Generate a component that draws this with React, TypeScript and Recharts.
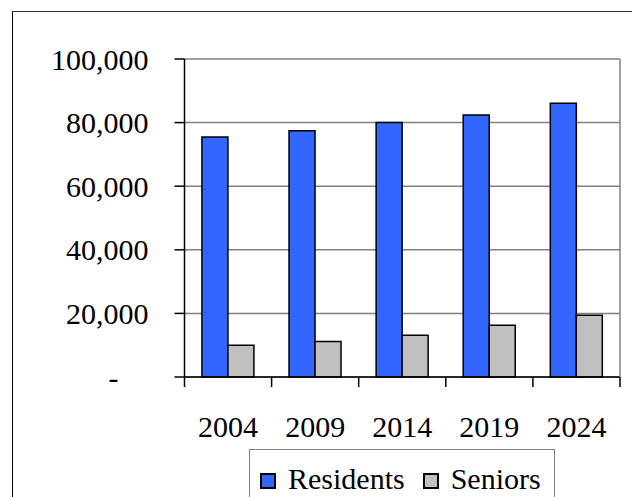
import React from 'react';
import { BarChart, Bar, XAxis, YAxis, CartesianGrid, Legend } from 'recharts';

const years = ['2004', '2009', '2014', '2019', '2024'];
const residents = [75500, 77400, 80000, 82400, 86100];
const seniors = [10000, 11200, 13100, 16300, 19400];
const yTicks = [0, 20000, 40000, 60000, 80000, 100000];

const data = years.map((y, i) => ({ year: y, Residents: residents[i], Seniors: seniors[i] }));

const FONT = 'Liberation Serif, DejaVu Serif, serif';
const BLUE = '#3366FF';
const GREY = '#C0C0C0';

const fmtY = (v: number) => (v === 0 ? '-\u00A0\u00A0\u00A0\u00A0' : v.toLocaleString('en-US'));

const XTick = (props: any) => {
  const { x, y, payload, index, visibleTicksCount } = props;
  const half = payload && payload.offset ? payload.offset : 43.6;
  const last = index === visibleTicksCount - 1;
  return (
    <g>
      <line x1={x - half} y1={y} x2={x - half} y2={y + 10} stroke="#000" strokeWidth={1.5} />
      {last && <line x1={x + half} y1={y} x2={x + half} y2={y + 10} stroke="#000" strokeWidth={1.5} />}
      <text x={x} y={y + 60} textAnchor="middle" fontFamily={FONT} fontSize={30} fill="#000">
        {payload.value}
      </text>
    </g>
  );
};

const LegendBox = () => (
  <div
    style={{
      width: 306,
      height: 60,
      border: '1.5px solid #808080',
      borderBottom: 'none',
      boxSizing: 'border-box',
      fontFamily: FONT,
      fontSize: 30,
      color: '#000',
      display: 'flex',
      alignItems: 'flex-start',
      paddingLeft: 10,
      paddingTop: 12,
      whiteSpace: 'nowrap',
    }}
  >
    {[
      { name: 'Residents', color: BLUE },
      { name: 'Seniors', color: GREY },
    ].map((it) => (
      <span key={it.name} style={{ display: 'inline-flex', alignItems: 'center', marginRight: 18, fontFamily: FONT }}>
        <span
          style={{
            display: 'inline-block',
            width: 16,
            height: 16,
            background: it.color,
            border: '2px solid #000',
            boxSizing: 'border-box',
            marginRight: 12,
            marginTop: 4,
          }}
        />
        <span style={{ lineHeight: '34px', fontFamily: FONT }}>{it.name}</span>
      </span>
    ))}
  </div>
);

export default function App() {
  return (
    <div style={{ position: 'absolute', left: 0, top: 0, width: 632, height: 497, overflow: 'hidden', background: '#fff', fontFamily: FONT }}>
      <div
        style={{
          position: 'absolute',
          left: 12,
          top: 11,
          width: 700,
          height: 600,
          borderLeft: '1.5px solid #000',
          borderTop: '1.5px solid #333',
        }}
      />
      <div style={{ position: 'absolute', left: 0, top: 0 }}>
        <BarChart
          width={632}
          height={497}
          data={data}
          margin={{ top: 59, right: 11, bottom: 0, left: 0 }}
          barCategoryGap="20%"
          barGap={0}
        >
          <CartesianGrid yAxisId="left" horizontal vertical={false} stroke="#808080" strokeWidth={1.5} />
          <XAxis
            dataKey="year"
            height={120}
            tickSize={0}
            tickMargin={0}
            tickLine={false}
            axisLine={{ stroke: '#000', strokeWidth: 1.5 }}
            tick={<XTick />}
            interval={0}
          />
          <YAxis
            yAxisId="left"
            width={184.5}
            domain={[0, 100000]}
            ticks={yTicks}
            tickFormatter={fmtY}
            tickSize={10}
            tickMargin={26}
            axisLine={{ stroke: '#000', strokeWidth: 1.5 }}
            tickLine={{ stroke: '#000', strokeWidth: 1.5 }}
            tick={{ fontFamily: FONT, fontSize: 30, fill: '#000' }}
            interval={0}
          />
          <YAxis
            yAxisId="right"
            orientation="right"
            width={1}
            domain={[0, 100000]}
            tick={false}
            tickLine={false}
            axisLine={{ stroke: '#808080', strokeWidth: 1.5 }}
          />
          <Legend
            layout="horizontal"
            verticalAlign="middle"
            align="center"
            content={<LegendBox />}
            wrapperStyle={{ position: 'absolute', left: 249, top: 449, width: 306, fontFamily: FONT }}
          />
          <Bar yAxisId="left" dataKey="Residents" fill={BLUE} stroke="#000" strokeWidth={1.5} isAnimationActive={false} />
          <Bar yAxisId="left" dataKey="Seniors" fill={GREY} stroke="#000" strokeWidth={1.5} isAnimationActive={false} />
        </BarChart>
      </div>
    </div>
  );
}
